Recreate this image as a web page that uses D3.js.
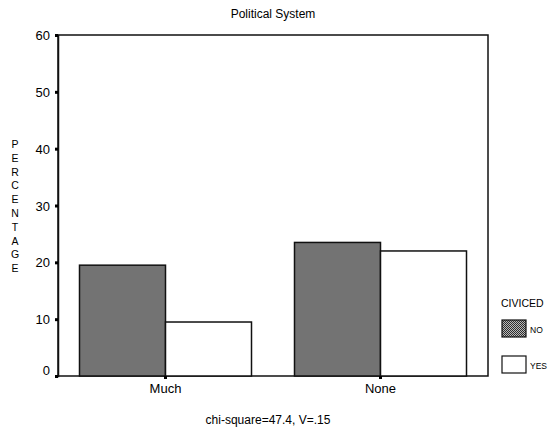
<html>
<script src='https://d3js.org/d3.v7.min.js'></script>
<style> body {margin:0; background:#fff;} text {font-family: Arial, "Liberation Sans", sans-serif; fill:#000;} </style>
<body onload='init()'>
<svg width=552 height=435>
</svg>
<script>
var categories = ["Much", "None"];
var groups = ["NO", "YES"];
var noValues = [19.5, 23.5];
var yesValues = [9.5, 22.0];
var yTicks = [0, 10, 20, 30, 40, 50, 60];

function init() {
var left = 58, right = 488, top = 35, bottom = 376;
var svg = d3.select("svg");

var defs = svg.append("defs");
var pat = defs.append("pattern")
    .attr("id", "check")
    .attr("width", 2).attr("height", 2)
    .attr("patternUnits", "userSpaceOnUse");
pat.append("rect").attr("width", 2).attr("height", 2).attr("fill", "#b8b8b8");
pat.append("rect").attr("width", 1).attr("height", 1).attr("fill", "#2e2e2e");
pat.append("rect").attr("x", 1).attr("y", 1).attr("width", 1).attr("height", 1).attr("fill", "#2e2e2e");

var x = d3.scaleBand()
    .domain(categories)
    .range([left, right])
    .paddingInner(0.2)
    .paddingOuter(0.1);

var x1 = d3.scaleBand()
    .domain(groups)
    .range([0, x.bandwidth()]);

var y = d3.scaleLinear()
    .domain([0, 60])
    .range([bottom, top]);

var rows = categories.map(function (c, i) {
    return {cat: c, vals: [{g: "NO", v: noValues[i]}, {g: "YES", v: yesValues[i]}]};
});

// frame
svg.append("rect")
    .attr("x", left).attr("y", top)
    .attr("width", right - left).attr("height", bottom - top)
    .attr("fill", "none").attr("stroke", "#111").attr("stroke-width", 1.5);

svg.append("g")
   .selectAll("g")
   .data(rows)
   .enter()
   .append("g")
   .attr("transform", function (d) { return "translate(" + x(d.cat) + ",0)"; })
   .selectAll("rect")
   .data(function (d) { return d.vals; })
   .enter()
   .append("rect")
     .attr("x", function (d) { return x1(d.g); })
     .attr("y", function (d) { return y(d.v); })
     .attr("width", x1.bandwidth())
     .attr("height", function (d) { return bottom - y(d.v); })
     .attr("fill", function (d) { return d.g == "NO" ? "url(#check)" : "#fff"; })
     .attr("stroke", "#111")
     .attr("stroke-width", 1.5);

var ya = svg.append("g")
    .attr("transform", "translate(" + left + ",0)")
    .call(d3.axisLeft(y).tickValues(yTicks).tickSize(3).tickPadding(5));
ya.select(".domain").attr("stroke", "#111").attr("stroke-width", 1.5);
ya.selectAll(".tick line").attr("stroke", "#000").attr("stroke-width", 3);
ya.selectAll(".tick text").style("font-size", "13px")
    .attr("dy", function (d) { return d == 0 ? "-0.1em" : "0.35em"; });

var xa = svg.append("g")
    .attr("transform", "translate(0," + bottom + ")")
    .call(d3.axisBottom(x).tickSize(3).tickPadding(5));
xa.select(".domain").remove();
xa.selectAll(".tick line").attr("stroke", "#000").attr("stroke-width", 3);
xa.selectAll(".tick text").style("font-size", "13px");

svg.append("text")
    .attr("x", 273).attr("y", 18)
    .attr("text-anchor", "middle")
    .style("font-size", "12px")
    .text("Political System");

svg.append("text")
    .attr("x", 268).attr("y", 424)
    .attr("text-anchor", "middle")
    .style("font-size", "12px")
    .text("chi-square=47.4, V=.15");

// stacked vertical axis title
var letters = "PERCENTAGE".split("");
svg.append("g").selectAll("text")
    .data(letters)
    .enter()
    .append("text")
    .attr("x", 15)
    .attr("y", function (d, i) { return 148 + i * 13.8; })
    .attr("text-anchor", "middle")
    .style("font-size", "10.5px")
    .text(function (d) { return d; });

// legend
var lg = svg.append("g");
lg.append("text").attr("x", 501).attr("y", 307).style("font-size", "10.5px").text("CIVICED");
var items = lg.selectAll("g.item")
    .data(groups)
    .enter()
    .append("g")
    .attr("transform", function (d, i) { return "translate(502," + (320 + i * 36) + ")"; });
items.append("rect")
    .attr("width", 24).attr("height", 17)
    .attr("fill", function (d) { return d == "NO" ? "url(#check)" : "#fff"; })
    .attr("stroke", "#111").attr("stroke-width", 1.2);
items.append("text")
    .attr("x", 28).attr("y", 12.5)
    .style("font-size", "8.5px")
    .text(function (d) { return d; });
}
</script>
</body>
</html>
